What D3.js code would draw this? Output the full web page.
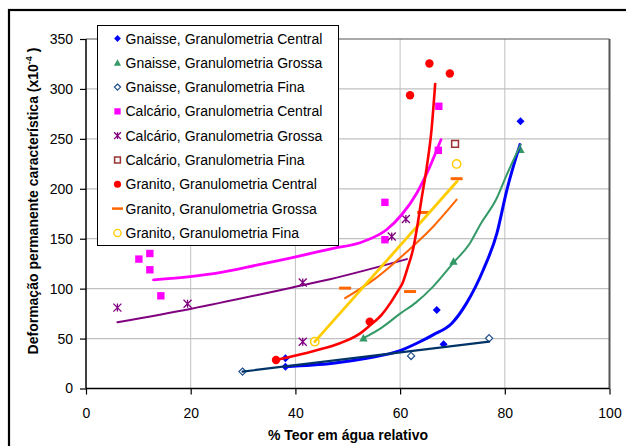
<!DOCTYPE html>
<html>
<head>
<meta charset="utf-8">
<script src="https://cdn.jsdelivr.net/npm/d3@7"></script>
<style>
  html, body { margin: 0; padding: 0; background: #fff; }
  svg { display: block; }
  text { font-family: "Liberation Sans", Arial, sans-serif; fill: #000; }
</style>
</head>
<body>
<svg id="chart" width="626" height="446"></svg>
<script>
// Axis ticks
const xTicks = [0, 20, 40, 60, 80, 100];
const yTicks = [0, 50, 100, 150, 200, 250, 300, 350];

// Measured points [teor em água %, deformação x10^-4]
const gnaisseCentral  = [[38.1, 30.3], [38.1, 21.9], [67.0, 78.7], [68.3, 44.3], [83.0, 267.6]];
const gnaisseGrossa   = [[53.0, 50.4], [70.2, 127.2], [83.0, 239.2]];
const gnaisseFina     = [[29.9, 16.9], [62.1, 32.6], [77.0, 50.3]];
const calcarioCentral = [[10.1, 129.6], [12.2, 135.2], [12.2, 118.9], [14.3, 92.8], [57.1, 186.4], [57.1, 149.0], [67.3, 238.5], [67.4, 282.6]];
const calcarioGrossa  = [[6.0, 81.0], [19.4, 84.8], [41.4, 106.1], [41.4, 46.9], [58.4, 152.3], [61.1, 169.7]];
const calcarioFina    = [[70.5, 244.9]];
const granitoCentral  = [[36.3, 28.6], [54.2, 67.0], [61.9, 293.7], [65.6, 325.5], [69.5, 315.4]];
const granitoGrossa   = [[49.5, 100.5], [61.9, 97.1], [64.4, 176.3], [70.8, 210.1]];
const granitoFina     = [[43.7, 46.9], [70.8, 224.9]];

// Trend curves
const trendGnaisseCentral = [[38.0, 21.9], [47.2, 25.3], [53.6, 30.3], [60.0, 37.9], [63.2, 45.3], [66.3, 53.7], [69.9, 65.4], [72.7, 85.5], [75.9, 118.9], [78.5, 155.7], [80.4, 199.0], [82.9, 244.2]];
const trendGnaisseGrossa  = [[53.0, 50.4], [56.5, 61.0], [60.0, 75.0], [63.0, 86.0], [66.3, 102.0], [70.2, 126.0], [73.4, 146.0], [75.3, 164.0], [78.5, 191.0], [80.2, 212.0], [83.0, 244.0]];
const trendGnaisseFina    = [[29.9, 16.9], [77.0, 46.9]];
const trendCalcarioCentral = [[12.9, 108.8], [19.9, 112.1], [25.0, 115.5], [33.0, 124.0], [39.0, 130.6], [46.6, 139.6], [53.0, 147.2], [57.4, 159.0], [60.3, 174.0], [63.2, 195.8], [65.7, 222.5], [67.8, 249.2]];
const trendCalcarioGrossa = [[6.0, 66.4], [19.9, 79.7], [40.2, 102.1], [46.6, 109.5], [61.3, 129.6]];
const trendGranitoCentral = [[36.3, 28.6], [43.7, 37.9], [48.5, 45.3], [52.3, 55.0], [54.2, 63.0], [56.5, 74.0], [58.2, 86.0], [59.5, 97.0], [60.5, 106.0], [61.5, 122.0], [62.5, 140.0], [63.3, 163.0], [64.1, 190.0], [65.1, 222.0], [66.0, 259.0], [66.7, 305.0]];
const trendGranitoGrossa  = [[49.5, 90.5], [55.5, 111.0], [61.3, 137.0], [66.3, 162.0], [70.8, 189.1]];
const trendGranitoFina    = [[43.7, 46.9], [70.9, 207.5]];

const seriesNames = [
  "Gnaisse, Granulometria Central",
  "Gnaisse, Granulometria Grossa",
  "Gnaisse, Granulometria Fina",
  "Calcário, Granulometria Central",
  "Calcário, Granulometria Grossa",
  "Calcário, Granulometria Fina",
  "Granito, Granulometria Central",
  "Granito, Granulometria Grossa",
  "Granito, Granulometria Fina"
];

const svg = d3.select("#chart");
const x = d3.scaleLinear().domain([0, 100]).range([86, 609.5]);
const y = d3.scaleLinear().domain([0, 350]).range([388.5, 39]);

// Chart frame
svg.append("rect").attr("x", 9).attr("y", 10).attr("width", 700).attr("height", 500)
  .attr("fill", "#fff").attr("stroke", "#000").attr("stroke-width", 2.2);

// Gridlines
svg.append("g").selectAll("line").data(yTicks.filter(v => v > 0 && v < 350)).join("line")
  .attr("x1", x(0)).attr("x2", x(100)).attr("y1", d => y(d)).attr("y2", d => y(d))
  .attr("stroke", "#c0c0c0").attr("stroke-width", 1.3);
svg.append("g").selectAll("line").data(xTicks.filter(v => v > 0 && v < 100)).join("line")
  .attr("y1", y(0)).attr("y2", y(350)).attr("x1", d => x(d)).attr("x2", d => x(d))
  .attr("stroke", "#c0c0c0").attr("stroke-width", 1);

// Plot area border (top / right)
svg.append("line").attr("x1", x(0)).attr("x2", x(100)).attr("y1", y(350)).attr("y2", y(350))
  .attr("stroke", "#555").attr("stroke-width", 1.2);
svg.append("line").attr("x1", x(100)).attr("x2", x(100)).attr("y1", y(350)).attr("y2", y(0))
  .attr("stroke", "#555").attr("stroke-width", 2);

// Axes
const xAxis = d3.axisBottom(x).tickValues(xTicks).tickSize(6).tickPadding(14);
const yAxis = d3.axisLeft(y).tickValues(yTicks).tickSize(6).tickPadding(7);
const gx = svg.append("g").attr("transform", `translate(0,${y(0)})`).call(xAxis);
const gy = svg.append("g").attr("transform", `translate(${x(0)},0)`).call(yAxis);
[gx, gy].forEach(g => {
  g.select(".domain").attr("stroke", "#000").attr("stroke-width", 1.5);
  g.selectAll(".tick line").attr("stroke", "#000").attr("stroke-width", 1.2);
  g.selectAll(".tick text").attr("font-size", 14).attr("font-family", "Liberation Sans, Arial, sans-serif").attr("fill", "#000");
});
gx.select(".domain").attr("d", `M${x(0)},0H${x(100)}`);
gy.select(".domain").attr("d", `M0,${y(0)}V${y(350)}`);

// Axis titles
svg.append("text").attr("x", 348).attr("y", 440).attr("text-anchor", "middle")
  .attr("font-size", 14).attr("font-weight", "bold").text("% Teor em água relativo");
const yt = svg.append("text").attr("transform", "translate(38,201) rotate(-90)")
  .attr("text-anchor", "middle").attr("font-size", 14).attr("font-weight", "bold");
yt.append("tspan").text("Deformação permanente característica (x10");
yt.append("tspan").attr("dy", -6).attr("font-size", 9).text("-4");
yt.append("tspan").attr("dy", 6).text(" )");

// Marker shapes
const shapes = {
  diamond: r => `M0,${-r}L${r},0L0,${r}L${-r},0Z`,
  square: r => `M${-r},${-r}H${r}V${r}H${-r}Z`,
  triangle: r => `M0,${-r}L${r},${r * 0.8}L${-r},${r * 0.8}Z`,
  asterisk: r => `M${-r},${-r}L${r},${r}M${-r},${r}L${r},${-r}M0,${-r}V${r}`,
  dash: r => `M${-r},0H${r}`,
  circle: r => `M${-r},0A${r},${r} 0 1,0 ${r},0A${r},${r} 0 1,0 ${-r},0Z`
};

const series = [
  { name: seriesNames[0], pts: gnaisseCentral, trend: trendGnaisseCentral, color: "#0000ff", lw: 3, shape: "diamond", r: 4, fill: "#0000ff", stroke: "none", sw: 0 },
  { name: seriesNames[1], pts: gnaisseGrossa, trend: trendGnaisseGrossa, color: "#339966", lw: 2, shape: "triangle", r: 4.2, fill: "#339966", stroke: "none", sw: 0 },
  { name: seriesNames[2], pts: gnaisseFina, trend: trendGnaisseFina, color: "#003366", lw: 2.2, shape: "diamond", r: 3.6, fill: "#fff", stroke: "#1f4e8c", sw: 1.2 },
  { name: seriesNames[3], pts: calcarioCentral, trend: trendCalcarioCentral, color: "#ff00ff", lw: 2.8, shape: "square", r: 3.7, fill: "#ff00ff", stroke: "none", sw: 0 },
  { name: seriesNames[4], pts: calcarioGrossa, trend: trendCalcarioGrossa, color: "#800080", lw: 2, shape: "asterisk", r: 4, fill: "none", stroke: "#800080", sw: 1.3 },
  { name: seriesNames[5], pts: calcarioFina, trend: null, color: "#993333", lw: 0, shape: "square", r: 3.4, fill: "#fff", stroke: "#993333", sw: 1.5 },
  { name: seriesNames[6], pts: granitoCentral, trend: trendGranitoCentral, color: "#ff0000", lw: 2.6, shape: "circle", r: 4.2, fill: "#ff0000", stroke: "none", sw: 0 },
  { name: seriesNames[7], pts: granitoGrossa, trend: trendGranitoGrossa, color: "#ff6600", lw: 2, shape: "dash", r: 6, fill: "none", stroke: "#ff6600", sw: 3 },
  { name: seriesNames[8], pts: granitoFina, trend: trendGranitoFina, color: "#ffcc00", lw: 2.8, shape: "circle", r: 4.2, fill: "#fff", stroke: "#ffcc00", sw: 1.4 }
];

const line = d3.line().x(d => x(d[0])).y(d => y(d[1])).curve(d3.curveMonotoneX);

// Markers
const markG = svg.append("g");
series.forEach(s => {
  markG.append("g").selectAll("path").data(s.pts).join("path")
    .attr("transform", d => `translate(${x(d[0])},${y(d[1])})`)
    .attr("d", shapes[s.shape](s.r))
    .attr("fill", s.fill).attr("stroke", s.stroke).attr("stroke-width", s.sw);
});

// Trend curves (drawn in this stacking order)
const trendOrder = [0, 1, 2, 3, 4, 7, 8, 6];
const trendG = svg.append("g");
trendOrder.forEach(i => {
  const s = series[i];
  trendG.append("path").datum(s.trend).attr("d", line)
    .attr("fill", "none").attr("stroke", s.color).attr("stroke-width", s.lw)
    .attr("stroke-linejoin", "round").attr("stroke-linecap", "round");
});

// Legend
const lg = svg.append("g");
lg.append("rect").attr("x", 97.5).attr("y", 25.5).attr("width", 241).attr("height", 220)
  .attr("fill", "#fff").attr("stroke", "#000").attr("stroke-width", 1);
series.forEach((s, i) => {
  const cy = 38.5 + i * 24.3;
  const lr = s.shape === "dash" ? 5.5 : s.r * 0.85;
  lg.append("path").attr("transform", `translate(117.5,${cy})`)
    .attr("d", shapes[s.shape](lr))
    .attr("fill", s.fill).attr("stroke", s.stroke).attr("stroke-width", s.shape === "dash" ? 2.5 : s.sw);
  lg.append("text").attr("x", 125.5).attr("y", cy + 5).attr("font-size", 14).text(s.name);
});
</script>
</body>
</html>
